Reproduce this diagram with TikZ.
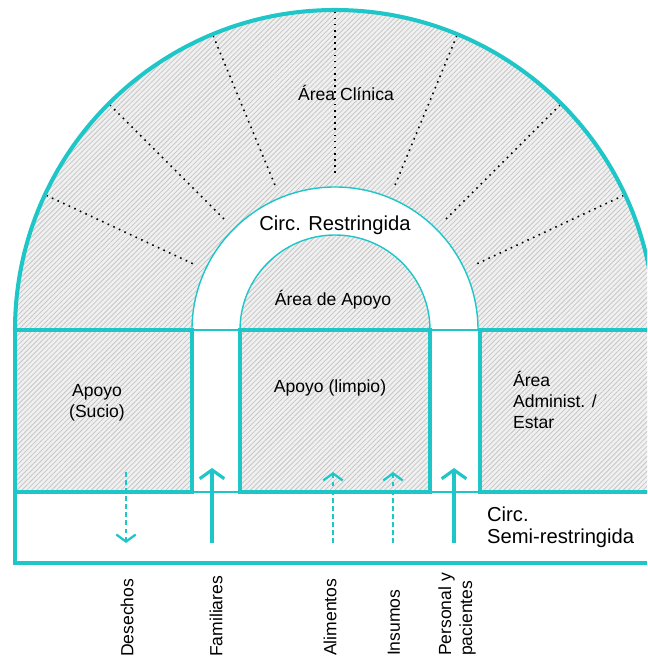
\documentclass[tikz,border=0pt]{standalone}
\usepackage{fontspec}
\setmainfont{Liberation Sans}
\usetikzlibrary{arrows.meta,patterns.meta}
\definecolor{turq}{RGB}{30,198,200}

\begin{document}
\begin{tikzpicture}[x=0.02cm, y=0.02cm,
    every node/.style={font=\fontsize{10}{12}\selectfont, inner sep=1pt},
    circfont/.style={font=\fontsize{11.5}{12.5}\selectfont},
    muro/.style={turq, line width=2.3pt},
    linea/.style={turq, line width=0.8pt},
    rayado/.style={preaction={fill=gray!12}, pattern={Lines[angle=45,distance=2pt,line width=0.45pt]}, pattern color=gray!45},
    radio/.style={black, line width=0.9pt, dash pattern=on 0.9pt off 2.6pt},
    flujo/.style={turq, line width=1.8pt, -{Straight Barb[length=5pt,width=14pt]}},
    flujoint/.style={turq, line width=1.5pt, dash pattern=on 2.8pt off 1.8pt, -{Straight Barb[length=4pt,width=11pt,line width=1.3pt]}},
    etiqueta/.style={rotate=90, anchor=west}]
    \useasboundingbox (0,0) rectangle (647,666);
    \clip (0,0) rectangle (647,666);

    % 外环：临床区（中心 (335,336)）
    \fill[rayado] (15,336) arc[start angle=180, end angle=0, radius=320]
        -- (478,336) arc[start angle=0, end angle=180, radius=143] -- cycle;
    % 内半圆：支持区
    \fill[rayado] (240,336) arc[start angle=180, end angle=0, radius=95] -- cycle;
    % 三个房间
    \fill[rayado] (15,174) rectangle (192,336);
    \fill[rayado] (240,174) rectangle (430,336);
    \fill[rayado] (480,174) rectangle (700,336);

    % 放射状点线
    \foreach \ang in {25,45,67.5,90,112.5,135,155}
        \draw[radio] (335,336) ++(\ang:157) -- ++(\ang:161);

    % 弧线
    \draw[muro] (15,336) arc[start angle=180, end angle=0, radius=320];
    \draw[linea] (192,336) arc[start angle=180, end angle=0, radius=143];
    \draw[linea] (240,336) arc[start angle=180, end angle=0, radius=95];

    % 走廊细线
    \draw[linea] (192,336) -- (240,336) (430,336) -- (480,336);
    \draw[linea] (15,174) -- (700,174);

    % 房间与下方走廊
    \draw[muro] (15,174) rectangle (192,336);
    \draw[muro] (240,174) rectangle (430,336);
    \draw[muro] (480,174) rectangle (700,336);
    \draw[muro, line join=miter] (15,174) -- (15,103) -- (700,103) -- (700,174);

    % 文字
    \node (clinica) at (346,573) {Área Clínica};
    \node[circfont] (restringida) at (335,441) {Circ. Restringida};
    \node (areaapoyo) at (333,366) {Área de Apoyo};
    \node[align=center] (sucio) at (97,263) {Apoyo\\(Sucio)};
    \node (limpio) at (330,278) {Apoyo (limpio)};
    \node[align=left, anchor=west] (admin) at (511,266) {Área\\Administ. /\\Estar};
    \node[circfont, align=left, anchor=west] (semi) at (485,139) {Circ.\\Semi-restringida};

    % 流线
    \coordinate (desA) at (126,194); \coordinate (desB) at (126,123);
    \coordinate (famA) at (212,123); \coordinate (famB) at (212,198);
    \coordinate (aliA) at (333,123); \coordinate (aliB) at (333,194);
    \coordinate (insA) at (393,123); \coordinate (insB) at (393,194);
    \coordinate (perA) at (454,123); \coordinate (perB) at (454,198);
    \draw[flujoint] (desA) -- (desB);
    \draw[flujo] (famA) -- (famB);
    \draw[flujoint] (aliA) -- (aliB);
    \draw[flujoint] (insA) -- (insB);
    \draw[flujo] (perA) -- (perB);

    % 底部竖排标签
    \node[etiqueta] (desechos) at (127,7) {Desechos};
    \node[etiqueta] (familiares) at (216,7) {Familiares};
    \node[etiqueta] (alimentos) at (330,8) {Alimentos};
    \node[etiqueta] (insumos) at (394,8) {Insumos};
    \node[etiqueta, align=left] (personal) at (457,8) {Personal y\\pacientes};
\end{tikzpicture}
\end{document}
